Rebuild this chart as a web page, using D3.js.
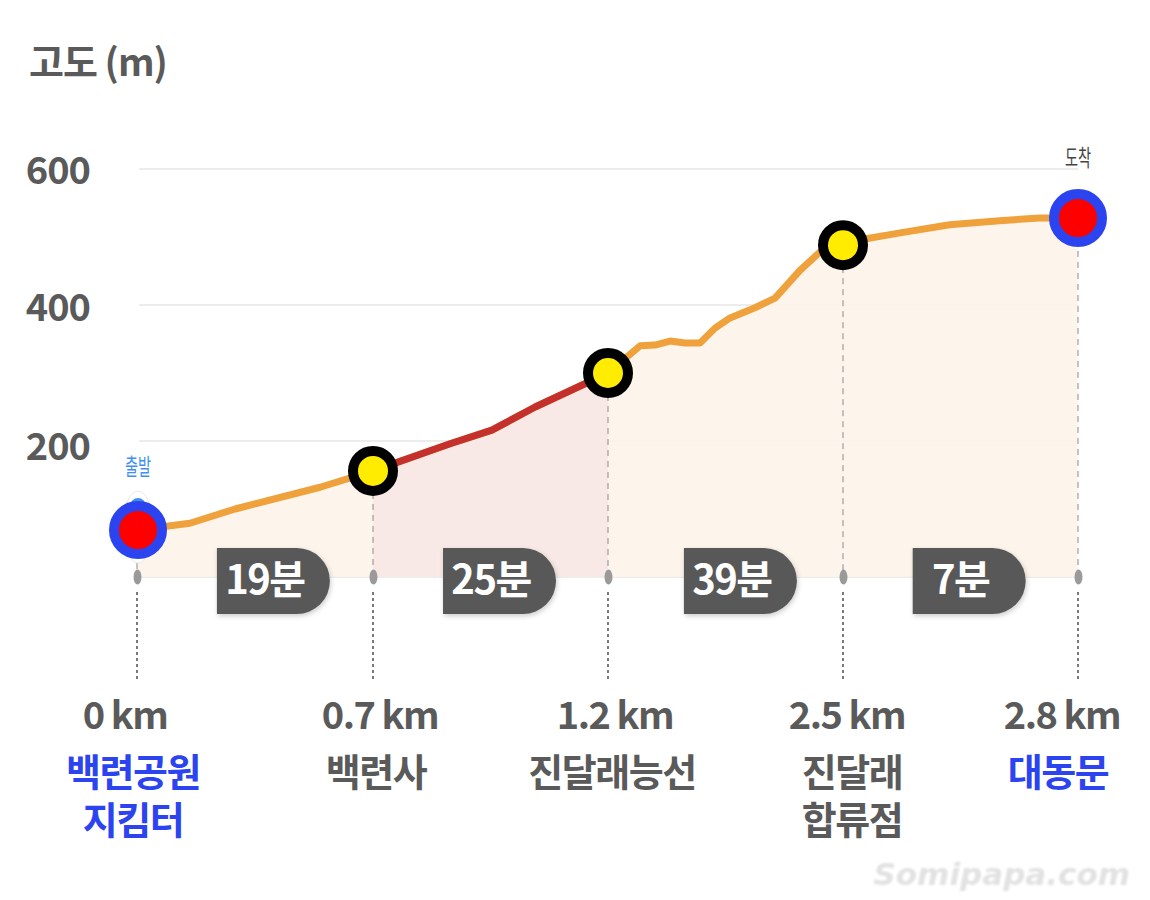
<!DOCTYPE html>
<html>
<head>
<meta charset="utf-8">
<script src="https://cdnjs.cloudflare.com/ajax/libs/d3/7.8.5/d3.min.js"></script>
<style>
  html, body { margin: 0; padding: 0; background: #fff; }
  svg { display: block; }
  text { font-family: "Noto Sans CJK KR", sans-serif; }
</style>
</head>
<body>
<div id="chart"></div>
<script>
// 구간 지점
var stopKm = [0, 0.7, 1.2, 2.5, 2.8];
var stopElev = [69, 156, 300, 488, 528];
var stopDist = ["0 km", "0.7 km", "1.2 km", "2.5 km", "2.8 km"];
var stopNames = [["백련공원", "지킴터"], ["백련사"], ["진달래능선"], ["진달래", "합류점"], ["대동문"]];
var stopEnd = [true, false, false, false, true];

// 고도 프로필 (눈으로 읽은 값)
var profileKm = [0, 0.157, 0.291, 0.543, 0.7, 0.864, 0.953, 1.045, 1.2, 1.377, 1.46, 1.543, 1.626, 1.709, 1.792, 1.875, 2.013, 2.124, 2.262, 2.373, 2.5, 2.522, 2.573, 2.636, 2.7, 2.751, 2.8];
var profileElev = [69, 79, 100, 132, 156, 196, 216, 250, 300, 340, 341, 347, 344, 344, 366, 381, 396, 410, 451, 478, 488, 496, 506, 518, 524, 528, 528];

var yTicks = [200, 400, 600];
var gridLevels = [0, 200, 400, 600];

// 소요시간 배지
var badgeLabels = ["19분", "25분", "39분", "7분"];
var badgeKm = [0.237, 0.849, 1.62, 2.589];

var width = 1150, height = 900;

var svg = d3.select("#chart").append("svg")
  .attr("width", width)
  .attr("height", height);

var defs = svg.append("defs");
var shadow = defs.append("filter").attr("id", "badgeShadow")
  .attr("x", "-10%").attr("y", "-15%").attr("width", "125%").attr("height", "135%");
shadow.append("feDropShadow")
  .attr("dx", 1).attr("dy", 2).attr("stdDeviation", 2.5)
  .attr("flood-color", "#000").attr("flood-opacity", 0.2);
defs.append("filter").attr("id", "soft")
  .append("feGaussianBlur").attr("stdDeviation", 0.9);

// 지점 간격이 거리 비례가 아니라 구간별로 같은 폭
var x = d3.scaleLinear().domain(stopKm).range([137, 373, 608, 843, 1078]);
var y = d3.scaleLinear().domain([0, 600]).range([577, 169]);

var profile = profileKm.map(function(d, i) { return { km: d, elev: profileElev[i] }; });

function between(a, b) {
  return profile.filter(function(d) { return d.km >= a && d.km <= b; });
}

var line = d3.line()
  .x(function(d) { return x(d.km); })
  .y(function(d) { return y(d.elev); });

var area = d3.area()
  .x(function(d) { return x(d.km); })
  .y0(y(0))
  .y1(function(d) { return y(d.elev); });

// 그리드
svg.selectAll(".grid")
  .data(gridLevels).enter()
  .append("line")
  .attr("class", "grid")
  .attr("x1", 139)
  .attr("x2", 1078)
  .attr("y1", function(d) { return y(d); })
  .attr("y2", function(d) { return y(d); })
  .style("stroke", "#ececec")
  .style("stroke-width", 2);

// 면
svg.append("path").attr("d", area(profile)).style("fill", "#fdf4ea").style("opacity", 0.9);
svg.append("path").attr("d", area(between(0.7, 1.2))).style("fill", "#f9e9e6");

// y축 라벨 (원본 라벨이 그리드보다 조금씩 아래에 있음)
var yAxis = d3.axisLeft(y).tickValues(yTicks).tickSize(0).tickPadding(0);
var yG = svg.append("g").attr("transform", "translate(90,0)").call(yAxis);
yG.select(".domain").remove();
yG.selectAll("text")
  .attr("x", 0)
  .attr("y", function(d) { return d === 200 ? 5 : d === 400 ? 2 : 1; })
  .attr("dy", "0.35em")
  .style("font-size", "38px")
  .style("font-weight", 700)
  .style("font-family", '"Noto Sans CJK KR", sans-serif')
  .style("fill", "#5a5a5a")
  .style("text-anchor", "end")
  .style("letter-spacing", "-1px");

svg.append("text")
  .text("고도 (m)")
  .attr("x", 29)
  .attr("y", 76)
  .style("font-size", "38px")
  .style("font-weight", 700)
  .style("letter-spacing", "-1px")
  .style("fill", "#5a5a5a");

// 세로 점선
var stops = stopKm.map(function(d, i) {
  return { km: d, elev: stopElev[i], dist: stopDist[i], names: stopNames[i], end: stopEnd[i] };
});

svg.selectAll(".upper")
  .data(stops).enter()
  .append("line")
  .attr("class", "upper")
  .attr("x1", function(d) { return x(d.km); })
  .attr("x2", function(d) { return x(d.km); })
  .attr("y1", function(d) { return y(d.elev); })
  .attr("y2", y(0))
  .style("stroke", "#8a8a8a")
  .style("stroke-width", 1)
  .style("stroke-dasharray", "6,5");

svg.selectAll(".lower")
  .data(stops).enter()
  .append("line")
  .attr("class", "lower")
  .attr("x1", function(d) { return x(d.km); })
  .attr("x2", function(d) { return x(d.km); })
  .attr("y1", 592)
  .attr("y2", 681)
  .style("stroke", "#333")
  .style("stroke-width", 1.3)
  .style("stroke-dasharray", "3,3");

svg.selectAll(".foot")
  .data(stops).enter()
  .append("ellipse")
  .attr("class", "foot")
  .attr("cx", function(d) { return x(d.km) + 0.5; })
  .attr("cy", y(0))
  .attr("rx", 4)
  .attr("ry", 7.5)
  .style("fill", "#9a9a9a");

// 프로필 선
svg.append("path")
  .attr("d", line(profile))
  .style("fill", "none")
  .style("stroke", "#efa23c")
  .style("stroke-width", 7)
  .style("stroke-linejoin", "round");

svg.append("path")
  .attr("d", line(between(0.7, 1.2)))
  .style("fill", "none")
  .style("stroke", "#c4312c")
  .style("stroke-width", 7)
  .style("stroke-linejoin", "round");

// 소요시간 배지
var badges = svg.selectAll(".badge")
  .data(badgeLabels).enter()
  .append("g")
  .attr("class", "badge")
  .attr("transform", function(d, i) { return "translate(" + x(badgeKm[i]) + ",548)"; });

badges.append("path")
  .attr("d", "M0,0H80A33,33 0 0 1 80,66H0Z")
  .attr("filter", "url(#badgeShadow)")
  .style("fill", "#595959");

badges.append("text")
  .text(function(d) { return d; })
  .attr("x", 48)
  .attr("y", 46)
  .attr("text-anchor", "middle")
  .style("font-size", "40px")
  .style("font-weight", 700)
  .style("letter-spacing", "-1.5px")
  .style("fill", "#fff");

// 출발 지점 뒤 작은 원
svg.append("ellipse")
  .attr("cx", x(0) + 1)
  .attr("cy", y(stopElev[0]) - 3)
  .attr("rx", 15)
  .attr("ry", 36)
  .style("fill", "#fff")
  .style("stroke", "#e8e8e8");

svg.append("circle")
  .attr("cx", x(0) + 1)
  .attr("cy", y(stopElev[0]) - 24)
  .attr("r", 8)
  .style("fill", "#3f8ff0");

// 지점 마커
svg.selectAll(".marker")
  .data(stops).enter()
  .append("circle")
  .attr("class", "marker")
  .attr("cx", function(d, i) { return x(d.km) + (i === 0 ? 1 : 0); })
  .attr("cy", function(d) { return y(d.elev); })
  .attr("r", function(d) { return d.end ? 24 : 20; })
  .style("fill", function(d) { return d.end ? "#ff0000" : "#ffec00"; })
  .style("stroke", function(d) { return d.end ? "#2b44f0" : "#000"; })
  .style("stroke-width", 10);

// 출발 / 도착
svg.append("text")
  .text("출발")
  .attr("transform", "translate(" + (x(0) + 1) + ",475) scale(0.62,1)")
  .attr("text-anchor", "middle")
  .style("font-size", "23px")
  .style("fill", "#3f8ff0");

svg.append("text")
  .text("도착")
  .attr("transform", "translate(" + x(2.8) + ",166) scale(0.62,1)")
  .attr("text-anchor", "middle")
  .style("font-size", "23px")
  .style("fill", "#444");

// 거리 / 지점 이름 (라벨은 살짝 왼쪽으로 치우쳐 있음)
var labelX = [125, 380, 615, 847, 1062];
var labelNameX = [133, 376, 612, 852, 1058];

svg.selectAll(".dist")
  .data(stops).enter()
  .append("text")
  .attr("class", "dist")
  .text(function(d) { return d.dist; })
  .attr("x", function(d, i) { return labelX[i]; })
  .attr("y", 729)
  .attr("text-anchor", "middle")
  .style("font-size", "38px")
  .style("font-weight", 700)
  .style("letter-spacing", "-1.5px")
  .style("fill", "#5a5a5a");

stops.forEach(function(d, i) {
  svg.selectAll(".name" + i)
    .data(d.names).enter()
    .append("text")
    .text(function(t) { return t; })
    .attr("x", labelNameX[i])
    .attr("y", function(t, j) { return 786 + j * 48; })
    .attr("text-anchor", "middle")
    .style("font-size", "38px")
    .style("font-weight", 700)
    .style("letter-spacing", "-1.5px")
    .style("fill", d.end ? "#2b44f0" : "#5a5a5a");
});

// 워터마크
svg.append("text")
  .text("Somipapa.com")
  .attr("x", 1130)
  .attr("y", 885)
  .attr("text-anchor", "end")
  .attr("filter", "url(#soft)")
  .style("font-family", '"DejaVu Sans", sans-serif')
  .style("font-size", "31px")
  .style("font-weight", 700)
  .style("font-style", "italic")
  .style("fill", "#e2e2e2");
</script>
</body>
</html>
